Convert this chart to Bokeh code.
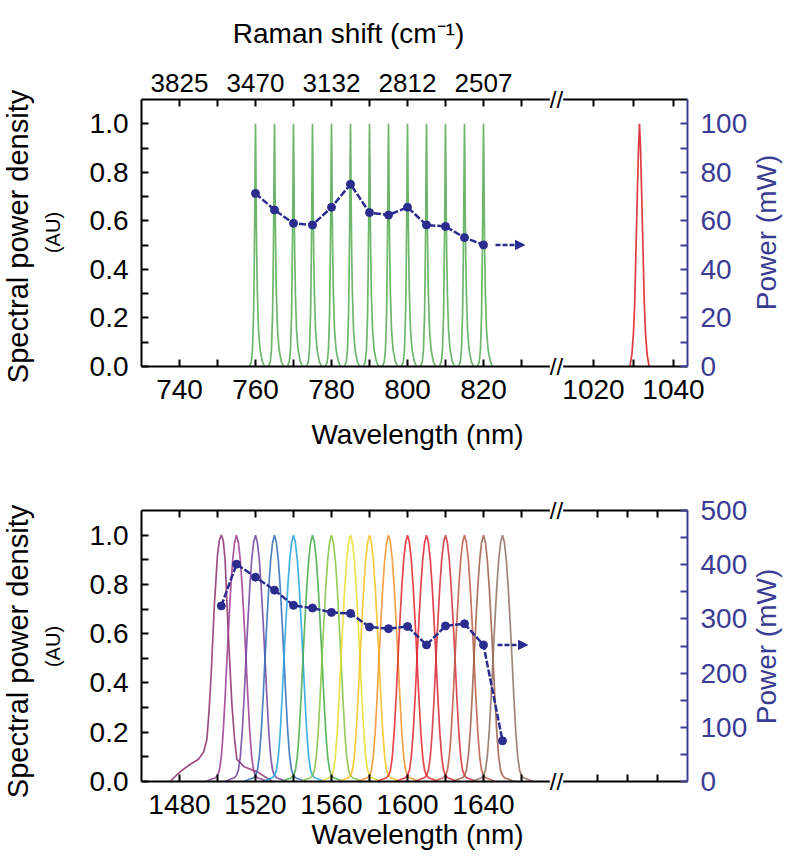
import math
import numpy as np
from bokeh.plotting import figure
from bokeh.models import (Range1d, LinearAxis, FixedTicker, Label, Arrow, NormalHead,
                          ColumnDataSource, NumeralTickFormatter)
from bokeh.layouts import column
from bokeh.embed import file_html
from bokeh.resources import INLINE

# ---------------- data: panel (a) ----------------
TOP_PEAK_NM = [760, 765, 770, 775, 780, 785, 790, 795, 800, 805, 810, 815, 820]
TOP_PEAK_HEIGHT = [1.0, 1.0, 1.0, 1.0, 1.0, 1.0, 1.0, 1.0, 1.0, 1.0, 1.0, 1.0, 1.0]
TOP_POWER_MW = [71.3, 64.5, 59.0, 58.3, 65.6, 75.1, 63.4, 62.4, 65.6, 58.3, 57.7, 53.1, 50.1]
# line shape of one Stokes line (offset nm, normalised value)
TOP_LINE_DNM = [-1.6, -1.1, -0.8, -0.5, -0.33, -0.2, -0.1, 0.0, 0.1, 0.2, 0.33, 0.5, 0.8, 1.2, 1.8, 2.4]
TOP_LINE_VAL = [0.0, 0.02, 0.07, 0.22, 0.42, 0.62, 0.85, 1.0, 0.85, 0.62, 0.45, 0.3, 0.15, 0.07, 0.02, 0.0]
PUMP_NM = 1031.5
PUMP_DNM = [-2.4, -1.9, -1.5, -1.2, -0.85, -0.5, -0.25, 0.0, 0.25, 0.5, 0.85, 1.2, 1.5, 1.9, 2.4]
PUMP_VAL = [0.0, 0.05, 0.14, 0.26, 0.5, 0.74, 0.9, 1.0, 0.9, 0.74, 0.5, 0.26, 0.14, 0.05, 0.0]
TOP_TICKS_NM = [740, 760, 780, 800, 820]
TOP_MINOR_NM = [750, 770, 790, 810, 830]
RAMAN_LABELS = ["3825", "3470", "3132", "2812", "2507"]
PUMP_TICKS_NM = [1020, 1040]
PUMP_MINOR_NM = [1030]
SPD_TICKS = [0.0, 0.2, 0.4, 0.6, 0.8, 1.0]
SPD_MINOR = [0.1, 0.3, 0.5, 0.7, 0.9]
TOP_PW_TICKS = [0, 20, 40, 60, 80, 100]
TOP_PW_MINOR = [10, 30, 50, 70, 90]

# ---------------- data: panel (b) ----------------
BOT_PEAK_NM = [1502, 1510, 1520, 1530, 1540, 1550, 1560, 1570, 1580, 1590, 1600, 1610, 1620, 1630, 1640, 1650]
BOT_POWER_MW = [324, 401, 377, 353, 325, 320, 312, 310, 285, 282, 286, 252, 287, 291, 252, 75]
BOT_COLORS = ["#8B2F6E", "#9B3A8E", "#7042A0", "#2F6DB8", "#22A2DE", "#45AA48", "#84C341",
              "#E6DE2E", "#F3C11D", "#F0922C", "#E3262C", "#DE2430", "#D42E38", "#BA5844",
              "#9E5C48", "#8E7062"]
BOT_LINE_DNM = [-16, -13, -11, -10, -9, -8, -7, -6, -5, -4, -3, -2, -1, 0,
                1, 2, 3, 4, 5, 6, 7, 8, 9, 10, 11, 13, 16]
BOT_LINE_VAL = [0.0, 0.01, 0.015, 0.025, 0.045, 0.1, 0.2, 0.34, 0.5, 0.65, 0.79, 0.9, 0.97, 1.0,
                0.97, 0.9, 0.79, 0.65, 0.5, 0.34, 0.2, 0.1, 0.045, 0.025, 0.015, 0.01, 0.0]
# first (shortest wavelength) spectrum has a broad pedestal
FIRST_LINE_DNM = [-27, -21.6, -16.3, -12, -9.3, -7.6, -6.5, -5.3, -3.7, -2, -1, 0,
                  1, 2, 3.8, 5.6, 7, 8.2, 12, 18.7, 27]
FIRST_LINE_VAL = [0.0, 0.04, 0.07, 0.09, 0.12, 0.17, 0.28, 0.44, 0.71, 0.92, 0.98, 1.0,
                  0.98, 0.9, 0.58, 0.31, 0.17, 0.09, 0.06, 0.04, 0.0]
BOT_TICKS_NM = [1480, 1520, 1560, 1600, 1640]
BOT_MINOR_NM = [1500, 1540, 1580, 1620, 1660]
BOT_PW_TICKS = [0, 100, 200, 300, 400, 500]
BOT_PW_MINOR = [50, 150, 250, 350, 450]

# ---------------- layout constants ----------------
FONT = "Liberation Sans"
NAVY = "#2A2C8E"
AXBLUE = "#3A3C94"
GREEN = "#3E9E3A"
PUMP_RED = "#D8262C"
LEFT, FRAME_W, RIGHT = 141, 546, 96       # pixels; x data unit = 1 pixel
W = LEFT + FRAME_W + RIGHT
BREAK_PX = 415
BOT_RIGHT_MINOR_PX = [456, 486, 516]
TICK_SIZE = "28px"
TITLE_SIZE = "28px"


def px_top(nm):
    return np.round((np.asarray(nm, dtype=float) - 730.0) * 3.8, 6)


def px_pump(nm):
    return np.round(452.0 + (np.asarray(nm, dtype=float) - 1020.0) * 4.0, 6)


def px_bot(nm):
    return np.round((np.asarray(nm, dtype=float) - 1460.0) * 1.9, 6)


def ints(a):
    return [int(round(float(v))) for v in a]


def style_axis(ax, color="black", size=TICK_SIZE, standoff=12):
    ax.axis_line_color = color
    ax.axis_line_width = 2
    ax.major_tick_line_color = color
    ax.minor_tick_line_color = color
    ax.major_tick_line_width = 2
    ax.minor_tick_line_width = 2
    ax.major_tick_in = 7
    ax.major_tick_out = 0
    ax.minor_tick_in = 7
    ax.minor_tick_out = 0
    ax.major_label_text_font = FONT
    ax.major_label_text_font_size = size
    ax.major_label_text_color = color
    ax.major_label_standoff = standoff


class Panel:
    """One panel; screen positions are given relative to the panel canvas's column origin."""

    def __init__(self, height, top_border, frame_h, power_top, y0_pos):
        self.upp = 1.1 / frame_h                      # data units per pixel (left y)
        self.y0_pos = y0_pos                          # picture y of the y=0 line
        bottom_border = height - top_border - frame_h
        y0 = -bottom_border * self.upp
        y1 = 1.1 + top_border * self.upp
        k = power_top / 1.1
        p = figure(width=W, height=height, x_range=Range1d(-LEFT, FRAME_W + RIGHT),
                   y_range=Range1d(y0, y1), output_backend="svg", toolbar_location=None,
                   x_axis_location=None, y_axis_location=None, min_border=0)
        p.outline_line_color = None
        p.background_fill_color = "white"
        p.border_fill_color = "white"
        p.xgrid.visible = False
        p.ygrid.visible = False
        p.extra_y_ranges = {"power": Range1d(y0 * k, y1 * k)}
        self.power_top = power_top
        self.p = p
        left = LinearAxis(ticker=FixedTicker(ticks=SPD_TICKS, minor_ticks=SPD_MINOR),
                          formatter=NumeralTickFormatter(format="0.0"),
                          fixed_location=0, bounds=(0, 1.1))
        style_axis(left, standoff=13)
        p.add_layout(left, "left")

    def y(self, pos_y):
        return (self.y0_pos - pos_y) * self.upp

    def x(self, pos_x):
        return pos_x - LEFT

    def label(self, pos_x, pos_y, text, size=TITLE_SIZE, color="black", vertical=False):
        self.p.add_layout(Label(x=self.x(pos_x), y=self.y(pos_y), text=text, text_font=FONT,
                                text_font_size=size, text_color=color,
                                angle=math.pi / 2 if vertical else 0.0, angle_units="rad",
                                text_align="center", text_baseline="middle"))

    def breaks(self):
        for yy in (0.0, 1.1):
            self.p.add_layout(Label(x=BREAK_PX, y=yy, text="//", text_font=FONT,
                                    text_font_size="24px", text_color="black",
                                    text_align="center", text_baseline="middle",
                                    background_fill_color="white"))

    def x_axis(self, place, loc, major, minor, overrides=None, size=TICK_SIZE, standoff=13):
        ax = LinearAxis(ticker=FixedTicker(ticks=major, minor_ticks=minor),
                        fixed_location=loc, bounds=(0, FRAME_W))
        style_axis(ax, size=size, standoff=standoff)
        if overrides is None:
            ax.major_label_text_font_size = "0px"
        else:
            ax.major_label_overrides = overrides
        self.p.add_layout(ax, place)

    def power_axis(self, ticks, minor):
        ax = LinearAxis(y_range_name="power", ticker=FixedTicker(ticks=ticks, minor_ticks=minor),
                        fixed_location=FRAME_W, bounds=(0, self.power_top))
        style_axis(ax, color=AXBLUE, standoff=13)
        self.p.add_layout(ax, "right")


# ================= panel (a) =================
A = Panel(height=462, top_border=99, frame_h=267, power_top=110, y0_pos=366)
top = A.p

xs = [px_top(c + np.array(TOP_LINE_DNM)) for c in TOP_PEAK_NM]
ys = [h * np.array(TOP_LINE_VAL) for h in TOP_PEAK_HEIGHT]
top.multi_line(xs=xs, ys=ys, line_color=GREEN, line_width=1.7, line_alpha=0.75)
top.line(px_pump(PUMP_NM + np.array(PUMP_DNM)), PUMP_VAL, line_color=PUMP_RED, line_width=1.7,
         line_alpha=0.9)

top.line(px_top(TOP_PEAK_NM), TOP_POWER_MW, y_range_name="power", line_color=NAVY,
         line_width=2.5, line_dash="7 2")
top.scatter(px_top(TOP_PEAK_NM), TOP_POWER_MW, y_range_name="power", size=8,
            fill_color=NAVY, line_color=NAVY)
top.add_layout(Arrow(end=NormalHead(size=9, fill_color=NAVY, line_color=NAVY),
                     x_start=354, x_end=383, y_start=TOP_POWER_MW[-1], y_end=TOP_POWER_MW[-1],
                     y_range_name="power", line_color=NAVY, line_width=2.5, line_dash="5 2"))

top_major = ints(px_top(TOP_TICKS_NM)) + ints(px_pump(PUMP_TICKS_NM))
top_minor = ints(px_top(TOP_MINOR_NM)) + ints(px_pump(PUMP_MINOR_NM))
A.x_axis("below", 0.0, top_major, top_minor,
         overrides={k: str(v) for k, v in zip(top_major, TOP_TICKS_NM + PUMP_TICKS_NM)})
ram_major = ints(px_top(TOP_TICKS_NM))
ram_minor = ints(px_top(TOP_MINOR_NM)) + ints(px_pump([1020, 1030, 1040]))
A.x_axis("above", 1.1, ram_major, ram_minor,
         overrides={k: v for k, v in zip(ram_major, RAMAN_LABELS)}, size="26px", standoff=8)
A.power_axis(TOP_PW_TICKS, TOP_PW_MINOR)
A.breaks()
A.label(348, 33, "Raman shift (cm\u207b\u00b9)")
A.label(417, 434, "Wavelength (nm)")
A.label(17, 236, "Spectral power density", size="29px", vertical=True)
A.label(52, 232, "(AU)", size="20px", vertical=True)
A.label(766, 232, "Power (mW)", color=AXBLUE, vertical=True)

# ================= panel (b) =================
# panel (b) canvas begins 462 px below the top; positions below are picture y minus 462
B = Panel(height=389, top_border=48, frame_h=271, power_top=500, y0_pos=781 - 462)
bot = B.p

bxs, bys = [], []
for i, c in enumerate(BOT_PEAK_NM):
    if i == 0:
        bxs.append(px_bot(c + np.array(FIRST_LINE_DNM)))
        bys.append(np.array(FIRST_LINE_VAL))
    else:
        bxs.append(px_bot(c + np.array(BOT_LINE_DNM)))
        bys.append(np.array(BOT_LINE_VAL))
spec = ColumnDataSource(dict(xs=bxs, ys=bys, color=BOT_COLORS))
bot.multi_line(xs="xs", ys="ys", line_color="color", source=spec, line_width=1.7, line_alpha=0.85)

bot.line(px_bot(BOT_PEAK_NM), BOT_POWER_MW, y_range_name="power", line_color=NAVY,
         line_width=2.5, line_dash="7 2")
bot.scatter(px_bot(BOT_PEAK_NM), BOT_POWER_MW, y_range_name="power", size=8,
            fill_color=NAVY, line_color=NAVY)
bot.add_layout(Arrow(end=NormalHead(size=9, fill_color=NAVY, line_color=NAVY),
                     x_start=356, x_end=386, y_start=BOT_POWER_MW[-2], y_end=BOT_POWER_MW[-2],
                     y_range_name="power", line_color=NAVY, line_width=2.5, line_dash="5 2"))

bot_major = ints(px_bot(BOT_TICKS_NM))
bot_minor = ints(px_bot(BOT_MINOR_NM)) + BOT_RIGHT_MINOR_PX
B.x_axis("below", 0.0, bot_major, bot_minor,
         overrides={k: str(v) for k, v in zip(bot_major, BOT_TICKS_NM)})
B.x_axis("above", 1.1, [], bot_major + bot_minor)
B.power_axis(BOT_PW_TICKS, BOT_PW_MINOR)
B.breaks()
B.label(417, 834 - 462, "Wavelength (nm)")
B.label(17, 651 - 462, "Spectral power density", size="29px", vertical=True)
B.label(52, 646 - 462, "(AU)", size="20px", vertical=True)
B.label(766, 646 - 462, "Power (mW)", color=AXBLUE, vertical=True)

layout = column(top, bot)
open("out.html", "w").write(file_html(layout, INLINE))
